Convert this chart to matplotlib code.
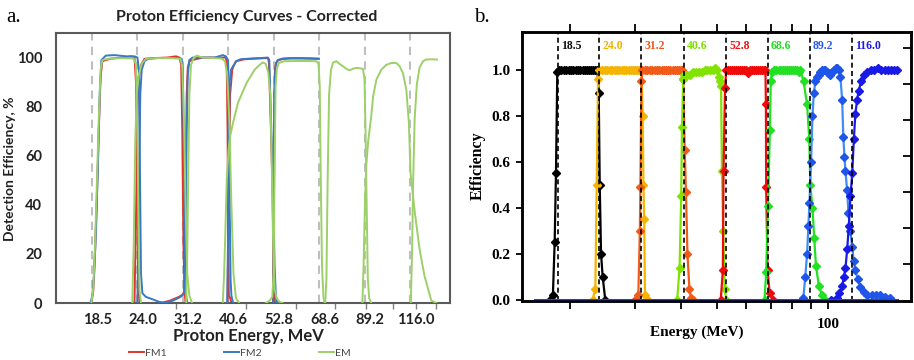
import matplotlib
matplotlib.use("Agg")
import matplotlib.pyplot as plt
from matplotlib.lines import Line2D
from matplotlib.ticker import FixedLocator, NullFormatter

# ---------------- panel a data (energy MeV, detection efficiency %) ----------------
channels = [18.5, 24.0, 31.2, 40.6, 52.8, 68.6, 89.2, 116.0]
channel_labels = ["18.5", "24.0", "31.2", "40.6", "52.8", "68.6", "89.2", "116.0"]

fm1_e = [
    [18.4, 18.6, 18.8, 19.0, 19.2, 19.4, 19.6, 20.5, 22.0, 23.2, 23.6, 23.8, 23.95, 24.1, 24.3],
    [23.6, 23.8, 24.0, 24.2, 24.5, 25.0, 26.5, 28.5, 30.0, 30.6, 30.9, 31.1, 31.3, 31.5, 31.7],
    [27.5, 29.0, 30.5, 31.2, 31.5, 31.7, 31.9, 32.1, 32.4, 33.0, 35.0, 38.0, 40.0, 40.2, 40.4, 40.55, 40.7, 41.0, 41.3],
    [40.4, 40.7, 41.0, 41.5, 41.8, 42.4, 44.5, 48.0, 51.0, 51.3, 51.8, 52.3, 52.8, 53.1],
    [52.5, 52.7, 52.9, 53.1, 53.4, 54.0, 55.5, 58.0, 62.0, 66.0, 68.4],
]
fm1_eff = [
    [0, 5, 22, 45, 70, 92, 98.5, 99.5, 100, 100.5, 100, 90, 50, 8, 0],
    [0, 35, 80, 92, 97, 99.5, 99.8, 100, 100.5, 100, 97, 70, 25, 5, 0],
    [0, 1, 2.5, 3.5, 5, 45, 85, 96, 98.5, 99, 100, 100, 100, 97, 70, 25, 3, 2, 0],
    [0, 50, 85, 95, 96.5, 98.5, 99.3, 99.6, 99.8, 98, 75, 50, 10, 0],
    [0, 40, 85, 95, 97.5, 98.8, 99.4, 99.6, 99.6, 99.5, 99.4],
]

fm2_e = [
    [18.3, 18.5, 18.7, 18.9, 19.1, 19.3, 19.5, 20.0, 21.0, 22.5, 23.6, 24.0, 24.2, 24.35, 24.5, 24.7, 25.2, 26.2, 27.2, 28.3],
    [24.0, 24.2, 24.4, 24.6, 25.0, 25.5, 27.0, 29.0, 30.5, 31.0, 31.2, 31.4, 31.6, 31.8, 32.0],
    [28.0, 29.5, 30.8, 31.4, 31.7, 31.9, 32.1, 32.4, 33.0, 35.0, 37.5, 39.3, 40.0, 40.5, 40.7, 40.9, 41.1, 41.3, 41.7],
    [40.3, 40.5, 40.7, 40.9, 41.2, 41.7, 42.5, 43.5, 46.0, 49.0, 51.0, 51.4, 51.9, 52.5, 53.0, 53.4, 53.8],
    [52.6, 52.8, 53.0, 53.2, 53.5, 54.0, 55.5, 58.0, 62.0, 66.0, 68.4],
]
fm2_eff = [
    [0, 3, 12, 30, 55, 85, 99, 100.8, 101, 100.5, 100.5, 100, 95, 55, 12, 4, 2.5, 1.5, 0.5, 0],
    [0, 40, 85, 95, 98.5, 99.5, 99.8, 99.8, 99.8, 99.5, 95, 60, 20, 3, 0],
    [0, 1, 2.5, 4, 20, 70, 93, 99, 100, 100, 100, 101, 100.5, 99, 85, 40, 10, 3, 0],
    [0, 25, 70, 90, 95, 96.5, 98.5, 99.3, 99.6, 99.8, 100, 99, 75, 50, 15, 3, 0],
    [0, 40, 85, 95, 98, 99, 99.6, 99.8, 99.8, 99.7, 99.6],
]

em_e = [
    [18.4, 18.6, 18.8, 19.0, 19.2, 19.4, 19.6, 20.5, 22.0, 23.5, 23.8, 24.0, 24.15, 24.3, 24.5],
    [23.3, 23.5, 23.7, 23.9, 24.2, 24.6, 25.2, 27.0, 29.0, 30.8, 31.1, 31.4, 31.7, 32.0, 32.4, 32.9],
    [31.8, 32.0, 32.2, 32.4, 32.7, 33.2, 33.8, 35.0, 37.0, 39.0, 39.8, 40.3, 40.8, 41.3, 41.8, 42.4, 43.2],
    [39.3, 39.6, 39.9, 40.2, 40.6, 41.0, 41.7, 42.9, 45.1, 47.2, 48.6, 49.5, 50.3, 51.1, 51.7, 52.1, 52.5, 53.0, 53.6, 54.5, 55.5],
    [50.4, 51.5, 52.3, 52.7, 53.0, 53.3, 53.7, 54.3, 56.0, 60.0, 64.0, 67.5, 68.3, 68.8, 69.2, 69.7, 70.3, 70.8],
    [71.0, 71.5, 72.0, 72.6, 73.4, 74.3, 75.7, 77.0, 78.6, 80.0, 81.7, 83.5, 85.0, 87.0, 88.3, 89.1, 89.6, 90.2, 90.8, 91.5, 92.6],
    [88.0, 88.6, 89.3, 89.9, 91.0, 92.6, 93.6, 95.4, 98.1, 101.0, 104.0, 107.0, 109.1, 111.2, 113.4, 115.1, 116.2, 118.9, 122.4, 126.0, 131.0, 134.9],
    [116.4, 117.2, 118.0, 119.0, 120.5, 122.4, 124.8, 127.2, 131.0, 135.5],
]
em_eff = [
    [0, 6, 25, 50, 75, 95, 99, 99.6, 99.8, 99.6, 97, 70, 30, 5, 0],
    [0, 25, 65, 85, 93, 97.5, 99.5, 99.8, 99.8, 99.5, 96, 75, 40, 12, 3, 0],
    [0, 20, 55, 85, 97, 99.8, 100.8, 100, 99.8, 99.6, 98.5, 93, 75, 40, 12, 2, 0],
    [0, 12, 30, 50, 62, 68, 73.5, 81.6, 89.7, 95, 97, 98, 97.5, 94, 85, 60, 28, 6, 2, 0.5, 0],
    [0, 1, 2.5, 12, 55, 88, 95.5, 97.8, 98.5, 98.6, 98.6, 98.5, 97.5, 88, 50, 15, 2, 0],
    [0, 10, 50, 85, 95, 98, 98.5, 97.5, 96.5, 95.5, 94.8, 95.5, 95.8, 95.6, 95.4, 91, 70, 40, 10, 2, 0],
    [0, 15, 40, 55, 66, 76, 84, 91, 95, 97, 97.8, 97.8, 96.5, 93.7, 87, 73.5, 53, 38, 22, 11, 1, 0],
    [0, 20, 50, 75, 89, 95.8, 98.5, 99.2, 99.3, 99.2],
]

# ---------------- panel b data (energy MeV, efficiency) ----------------
black_e = [17.6, 17.95, 18.15, 18.3, 18.45, 18.6, 18.9, 19.2, 19.5, 19.8, 20.1, 20.4, 20.7, 21.0,
           21.3, 21.6, 21.9, 22.2, 22.5, 22.8, 23.1, 23.4, 23.7, 23.9, 24.05, 24.25, 24.5, 24.9]
black_eff = [0.0, 0.02, 0.25, 0.55, 0.99, 1.0, 1.0, 1.0, 1.0, 1.0, 1.0, 1.0, 1.0, 1.0,
             1.0, 1.0, 1.0, 1.0, 1.0, 1.0, 1.0, 1.0, 1.0, 0.9, 0.5, 0.2, 0.1, 0.0]

gold_e = [23.0, 23.4, 23.6, 23.8, 24.0, 24.4, 24.8, 25.2, 25.6, 26.0, 26.4, 26.8, 27.2, 27.6,
          28.0, 28.4, 28.8, 29.2, 29.6, 30.0, 30.4, 30.8, 31.2, 31.45, 31.6, 31.75, 31.9, 32.5]
gold_eff = [0.0, 0.05, 0.5, 0.96, 1.0, 1.0, 1.0, 1.0, 1.0, 1.0, 1.0, 1.0, 1.0, 1.0,
            1.0, 1.0, 1.0, 1.0, 1.0, 1.0, 1.0, 1.0, 1.0, 0.8, 0.5, 0.35, 0.02, 0.0]

orange_e = [30.0, 30.6, 30.9, 31.0, 31.2, 31.4, 31.9, 32.4, 32.9, 33.4, 33.9, 34.4, 34.9, 35.4, 35.9, 36.4,
            36.9, 37.4, 37.9, 38.4, 38.9, 39.4, 39.9, 40.2, 40.5, 40.9, 41.2, 41.6, 42.1, 42.5, 43.0]
orange_eff = [0.0, 0.02, 0.3, 0.49, 0.95, 1.0, 1.0, 1.0, 1.0, 1.0, 1.0, 1.0, 1.0, 1.0, 1.0, 1.0,
              1.0, 1.0, 1.0, 1.0, 1.0, 1.0, 1.0, 1.0, 0.96, 0.65, 0.47, 0.2, 0.05, 0.01, 0.0]

lime_e = [39.0, 39.6, 40.0, 40.2, 40.5, 40.8, 41.5, 42.3, 43.1, 43.9, 44.7, 45.5, 46.3,
          47.1, 47.9, 48.7, 49.5, 50.0, 50.5, 51.0, 51.3, 51.6, 52.0, 52.5, 53.0]
lime_eff = [0.0, 0.14, 0.45, 0.75, 0.96, 0.98, 0.98, 0.98, 0.99, 0.99, 0.99, 0.99, 1.0,
            1.0, 1.0, 1.0, 1.01, 1.0, 0.97, 0.95, 0.93, 0.56, 0.3, 0.05, 0.0]

red_e = [51.2, 51.9, 52.1, 52.6, 53.0, 53.7, 54.4, 55.1, 55.8, 56.5, 57.2, 57.9, 58.6, 59.3, 60.0,
         60.8, 61.6, 62.4, 63.2, 64.0, 64.8, 65.6, 66.4, 67.2, 67.7, 67.9, 68.0, 68.6, 69.5, 71.0]
red_eff = [0.0, 0.13, 0.56, 0.92, 1.0, 1.0, 1.0, 1.0, 1.0, 1.0, 1.0, 1.0, 1.0, 1.0, 1.0,
           0.985, 1.0, 1.0, 1.0, 1.0, 1.0, 1.0, 1.0, 1.0, 1.0, 0.85, 0.49, 0.13, 0.03, 0.0]

green_e = [67.3, 68.0, 68.8, 69.6, 70.0, 70.5, 71.5, 72.5, 73.5, 74.5, 75.5, 76.5, 77.5, 78.5, 79.5,
           80.5, 81.5, 82.5, 83.5, 84.2, 85.9, 87.8, 89.0, 89.6, 90.8, 91.8, 92.8, 94.5, 96.5, 98.0]
green_eff = [0.0, 0.12, 0.41, 0.74, 0.95, 0.99, 1.0, 1.0, 1.0, 1.0, 1.0, 1.0, 1.0, 1.0, 1.0,
             1.0, 1.0, 1.0, 0.99, 1.0, 0.95, 0.85, 0.7, 0.5, 0.4, 0.27, 0.15, 0.06, 0.02, 0.0]

lblue_e = [85.8, 86.8, 87.8, 88.5, 89.1, 90.0, 90.8, 91.6, 92.5, 93.5, 94.5, 95.4, 96.5, 97.5, 98.5,
           99.5, 100.5, 101.6, 102.7, 103.8, 104.9, 106.0, 107.0, 108.1, 109.3, 110.1, 110.9, 111.6,
           112.7, 113.7, 115.0, 116.4, 117.5, 118.7, 120.5, 122.5, 125.0, 128.0, 132.0, 135.0, 138.8,
           143.0, 147.8]
lblue_eff = [0.01, 0.1, 0.2, 0.32, 0.42, 0.6, 0.8, 0.9, 0.95, 0.97, 0.98, 0.99, 1.0, 1.0, 1.0,
             0.99, 0.985, 0.98, 0.99, 1.0, 1.01, 1.01, 1.0, 0.97, 0.87, 0.71, 0.62, 0.56,
             0.48, 0.38, 0.3, 0.23, 0.17, 0.13, 0.09, 0.056, 0.035, 0.02, 0.02, 0.02, 0.02,
             0.015, 0.01]

dblue_e = [102.0, 105.9, 107.5, 109.3, 110.5, 111.6, 112.8, 113.9, 115.1, 116.4, 117.6, 118.7, 120.0,
           121.2, 123.0, 125.1, 127.5, 130.6, 133.5, 136.5, 139.5, 142.5, 145.5, 148.5, 151.5, 154.2]
dblue_eff = [0.0, 0.01, 0.03, 0.06, 0.1, 0.14, 0.22, 0.32, 0.45, 0.55, 0.7, 0.81, 0.87,
             0.91, 0.95, 0.98, 0.99, 1.0, 1.0, 1.01, 1.0, 1.0, 1.0, 1.0, 1.0, 1.0]

base_e = [16.1, 154.0]
base_eff = [0.0, 0.0]

label_colors = ["#111111", "#f2b200", "#f0561c", "#7ee000", "#ee1515", "#22dd22", "#2a5ae8", "#1a1ae6"]

# ---------------- figure ----------------
fig = plt.figure(figsize=(9.14, 3.6), dpi=100)
sans = "Lato"
serif = "Liberation Serif"

# ===== panel a =====
axa = fig.add_axes([0.0613, 0.1583, 0.4311, 0.75])
axa.set_xscale("log")
for e in channels:
    axa.axvline(e, color="#bfbfbf", ls=(0, (4, 3)), lw=1.5, zorder=1)

c_fm1, c_fm2, c_em = "#e0352d", "#3a78c4", "#9cd068"
for es, ys in zip(fm1_e, fm1_eff):
    axa.plot(es, ys, color=c_fm1, lw=1.4, zorder=2)
for es, ys in zip(fm2_e, fm2_eff):
    axa.plot(es, ys, color=c_fm2, lw=1.4, zorder=3)
for es, ys in zip(em_e, em_eff):
    axa.plot(es, ys, color=c_em, lw=1.4, zorder=4)

axa.set_xlim(15, 146)
axa.set_ylim(0, 110)
axa.set_xticks([e * 1.03 for e in channels])
axa.set_xticklabels(channel_labels, family=sans, fontweight="bold", fontsize=10.5, color="#222222")
axa.xaxis.set_minor_locator(FixedLocator([30, 45, 60, 75, 90, 105, 120, 135]))
axa.xaxis.set_minor_formatter(NullFormatter())
axa.tick_params(axis="x", which="major", length=0, pad=7)
axa.tick_params(axis="x", which="minor", length=4, color="#808080", width=1)
axa.set_yticks([0, 20, 40, 60, 80, 100])
axa.set_yticklabels(["0", "20", "40", "60", "80", "100"], family=sans, fontweight="bold",
                    fontsize=10.5, color="#222222")
axa.tick_params(axis="y", length=0, pad=10)
for s in axa.spines.values():
    s.set_color("#5a5a5a")
    s.set_linewidth(1.5)

fig.text(247 / 914, 1 - 17 / 360, "Proton Efficiency Curves - Corrected", family=sans,
         fontweight="bold", fontsize=11.5, ha="center", va="center", color="#222222")
fig.text(248 / 914, 1 - 336 / 360, "Proton Energy, MeV", family=sans, fontweight="bold",
         fontsize=12, ha="center", va="center", color="#222222")
fig.text(10 / 914, 1 - 169 / 360, "Detection Efficiency, %", family=sans, fontweight="bold",
         fontsize=10, rotation=90, ha="center", va="center", color="#222222")
fig.text(6 / 914, 1 - 18 / 360, "a.", family=serif, fontsize=15, ha="left", va="center")

handles = [Line2D([], [], color=c_fm1, lw=1.4), Line2D([], [], color=c_fm2, lw=1.4),
           Line2D([], [], color=c_em, lw=1.4)]
fig.legend(handles, ["FM1", "FM2", "EM"], loc="center", bbox_to_anchor=(240 / 914, 1 - 353 / 360),
           ncol=3, frameon=False, handlelength=1.4, handletextpad=0.15, columnspacing=5.5,
           prop={"family": sans, "size": 7.5}, labelcolor="#444444")

# ===== panel b =====
axb = fig.add_axes([0.5711, 0.1639, 0.4256, 0.7472])
axb.set_xscale("log")
for e, lab, col in zip(channels, channel_labels, label_colors):
    axb.axvline(e, color="black", ls=(0, (3, 2)), lw=1.2, zorder=5)
    axb.annotate(lab, xy=(e, 1.104), xytext=(2.5, 0), textcoords="offset points", ha="left",
                 va="center", family=serif, fontweight="bold", fontsize=8.5, color=col)

series_b = [
    (black_e, black_eff, "#000000", "#000000"),
    (gold_e, gold_eff, "#f5b400", "#f5b400"),
    (orange_e, orange_eff, "#f25a18", "#f25a18"),
    (lime_e, lime_eff, "#80e400", "#80e400"),
    (red_e, red_eff, "#f00a0a", "#f00a0a"),
    (green_e, green_eff, "#22e022", "#22e022"),
    (lblue_e, lblue_eff, "#3f8cf8", "#1f55e8"),
    (dblue_e, dblue_eff, "#1a1ae6", "#1a1ae6"),
]
for es, ys, lc, mc in series_b:
    axb.plot(es, ys, color=lc, lw=1.6, marker="D", ms=3.6, mfc=mc, mec=mc, zorder=3)
axb.plot(base_e, base_eff, color="#2a3cf0", lw=2.2, zorder=6)

axb.set_xlim(14.8, 168)
axb.set_ylim(-0.0043, 1.165)
axb.set_yticks([0, 0.2, 0.4, 0.6, 0.8, 1.0])
axb.set_yticklabels(["0.0", "0.2", "0.4", "0.6", "0.8", "1.0"], family=serif, fontweight="bold",
                    fontsize=11)
axb.xaxis.set_major_locator(FixedLocator([100]))
axb.xaxis.set_minor_locator(FixedLocator([20, 30, 40, 50, 60, 70, 80, 90]))
axb.xaxis.set_minor_formatter(NullFormatter())
axb.set_xticklabels(["100"], family=serif, fontweight="bold", fontsize=11)
axb.tick_params(axis="x", which="both", direction="out", top=True, length=6, width=1.3, pad=6)
axb.tick_params(axis="y", direction="out", length=4, width=1.3, pad=4)
for s in axb.spines.values():
    s.set_linewidth(1.8)

twin = axb.twinx()
twin.set_ylim(-0.0055, 1.489)
twin.set_yticks([0.2, 0.4, 0.6, 0.8, 1.0, 1.2, 1.4])
twin.tick_params(axis="y", direction="in", length=6, width=1.3, labelright=False)
for s in twin.spines.values():
    s.set_linewidth(1.8)

fig.text(697 / 914, 1 - 332 / 360, "Energy (MeV)", family=serif, fontweight="bold", fontsize=11,
         ha="center", va="center")
fig.text(478 / 914, 1 - 166 / 360, "Efficiency", family=serif, fontweight="bold", fontsize=11.5,
         rotation=90, ha="center", va="center")
fig.text(474 / 914, 1 - 18 / 360, "b.", family=serif, fontsize=15, ha="left", va="center")

fig.savefig("out.png", dpi=100)
